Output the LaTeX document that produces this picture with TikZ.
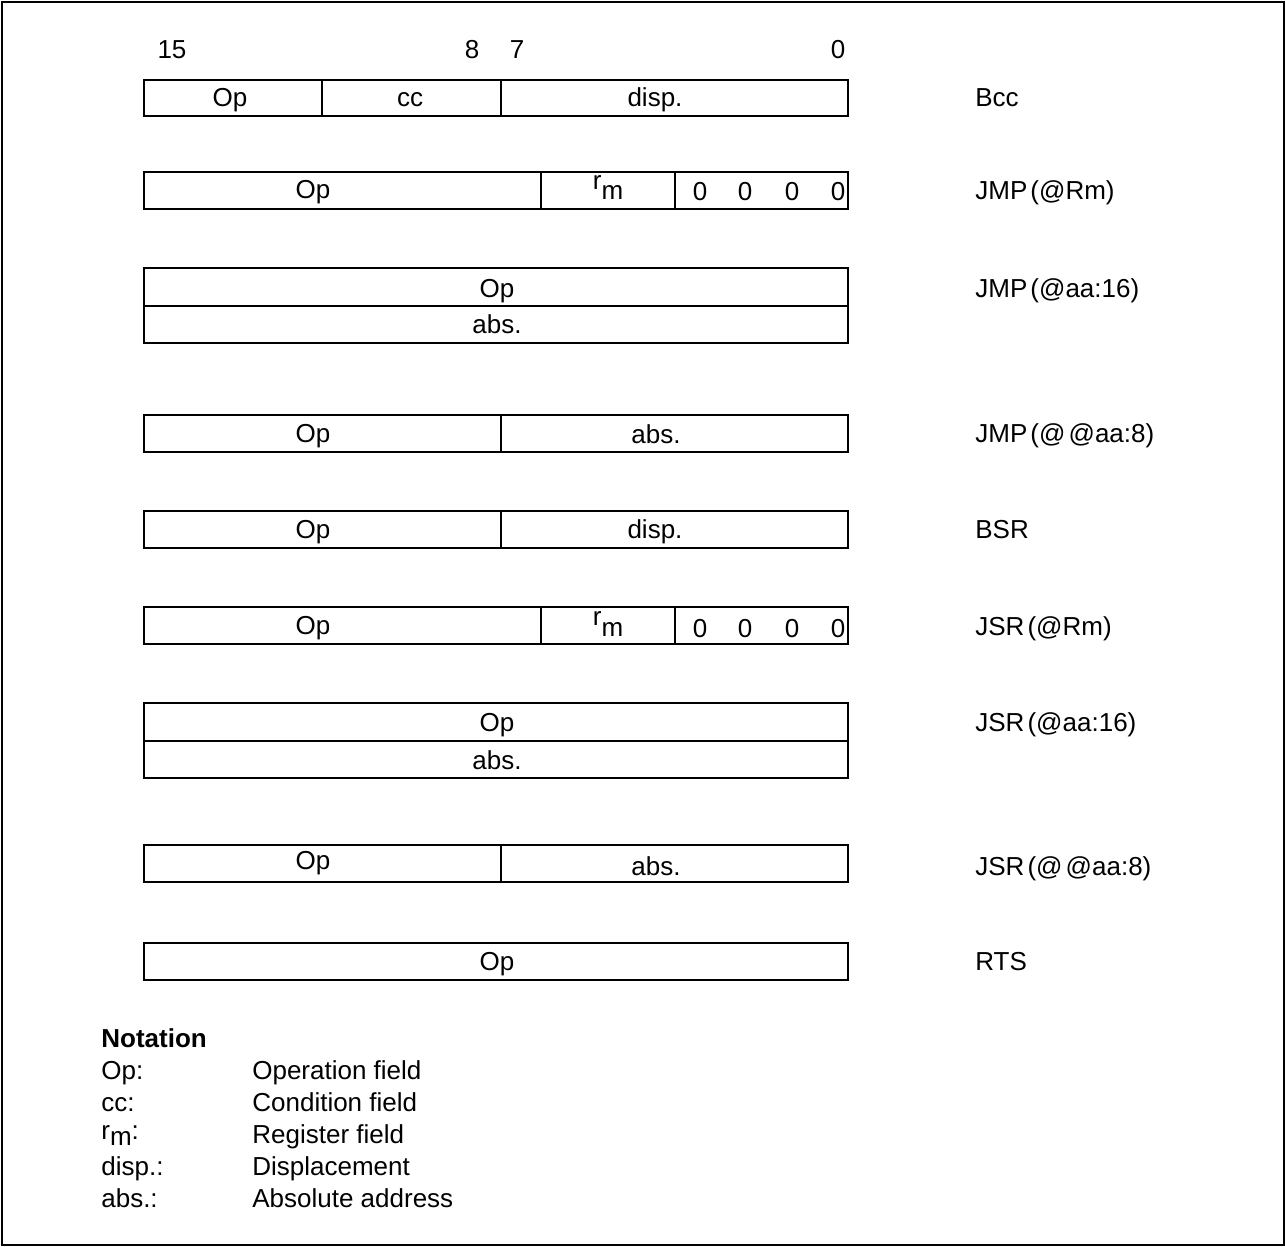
\documentclass[tikz,border=0pt]{standalone}
\usepackage{fontspec}
\setmainfont{Liberation Sans}
\usepackage{tikz}

\newcommand{\regm}{\raisebox{0.75ex}{r}m}

\begin{document}
\begin{tikzpicture}[
    x=0.02cm, y=-0.02cm,
    field/.style={draw=black, line width=1.1pt},
    txt/.style={inner sep=0pt, anchor=base, font=\fontsize{14.8}{17}\selectfont},
    mnem/.style={txt, anchor=base west},
    section/.style={txt, anchor=base west, font=\fontsize{14.8}{17}\selectfont\bfseries}
]
    \useasboundingbox (0,0) rectangle (1286,1247);
    \draw[line width=1.1pt] (2,2) rectangle (1284,1245);

    % Bit numbers
    \node[txt] (b15) at (172,59) {15};
    \node[txt] (b8) at (472,59) {8};
    \node[txt] (b7) at (517,59) {7};
    \node[txt] (b0) at (838,59) {0};

    % Bcc
    \draw[field] (144,80) rectangle (322,116);
    \draw[field] (322,80) rectangle (501,116);
    \draw[field] (501,80) rectangle (848,116);
    \node[txt] (bcc-op) at (230,107) {Op};
    \node[txt] (bcc-cc) at (410,107) {cc};
    \node[txt] (bcc-disp) at (655,107) {disp.};
    \node[mnem] (bcc) at (975,107) {Bcc};

    % JMP (@Rm)
    \draw[field] (144,172) rectangle (541,209);
    \draw[field] (541,172) rectangle (675,209);
    \draw[field] (675,172) rectangle (848,209);
    \node[txt] (jmpr-op) at (313,198) {Op};
    \node[txt] (jmpr-rm) at (608,200) {\regm};
    \node[txt] (jmpr-z3) at (700,201) {0};
    \node[txt] (jmpr-z2) at (745,201) {0};
    \node[txt] (jmpr-z1) at (792,201) {0};
    \node[txt] (jmpr-z0) at (838,201) {0};
    \node[mnem] (jmpr) at (975,199) {JMP\hspace{0.12em}(@Rm)};

    % JMP (@aa:16)
    \draw[field] (144,268) rectangle (848,306);
    \draw[field] (144,306) rectangle (848,343);
    \node[txt] (jmpa-op) at (497,297) {Op};
    \node[txt] (jmpa-abs) at (497,334) {abs.};
    \node[mnem] (jmpa) at (975,297) {JMP\hspace{0.12em}(@aa:16)};

    % JMP (@@aa:8)
    \draw[field] (144,415) rectangle (501,452);
    \draw[field] (501,415) rectangle (848,452);
    \node[txt] (jmpm-op) at (313,442) {Op};
    \node[txt] (jmpm-abs) at (656,443) {abs.};
    \node[mnem] (jmpm) at (975,442) {JMP\hspace{0.12em}(@\hspace{0.12em}@aa:8)};

    % BSR
    \draw[field] (144,511) rectangle (501,548);
    \draw[field] (501,511) rectangle (848,548);
    \node[txt] (bsr-op) at (313,538) {Op};
    \node[txt] (bsr-disp) at (655,538) {disp.};
    \node[mnem] (bsr) at (975,538) {BSR};

    % JSR (@Rm)
    \draw[field] (144,607) rectangle (541,644);
    \draw[field] (541,607) rectangle (675,644);
    \draw[field] (675,607) rectangle (848,644);
    \node[txt] (jsrr-op) at (313,634) {Op};
    \node[txt] (jsrr-rm) at (608,636) {\regm};
    \node[txt] (jsrr-z3) at (700,637) {0};
    \node[txt] (jsrr-z2) at (745,637) {0};
    \node[txt] (jsrr-z1) at (792,637) {0};
    \node[txt] (jsrr-z0) at (838,637) {0};
    \node[mnem] (jsrr) at (975,635) {JSR\hspace{0.12em}(@Rm)};

    % JSR (@aa:16)
    \draw[field] (144,703) rectangle (848,741);
    \draw[field] (144,741) rectangle (848,778);
    \node[txt] (jsra-op) at (497,731) {Op};
    \node[txt] (jsra-abs) at (497,769) {abs.};
    \node[mnem] (jsra) at (975,731) {JSR\hspace{0.12em}(@aa:16)};

    % JSR (@@aa:8)
    \draw[field] (144,845) rectangle (501,882);
    \draw[field] (501,845) rectangle (848,882);
    \node[txt] (jsrm-op) at (313,869) {Op};
    \node[txt] (jsrm-abs) at (656,875) {abs.};
    \node[mnem] (jsrm) at (975,875) {JSR\hspace{0.12em}(@\hspace{0.12em}@aa:8)};

    % RTS
    \draw[field] (144,943) rectangle (848,980);
    \node[txt] (rts-op) at (497,970) {Op};
    \node[mnem] (rts) at (975,970) {RTS};

    % Notation
    \node[section] (notation) at (101,1047) {Notation};
    \node[mnem] (n-op) at (101,1079) {Op:};
    \node[mnem] (n-cc) at (101,1111) {cc:};
    \node[mnem] (n-rm) at (101,1139) {r\raisebox{-0.45ex}{m}:};
    \node[mnem] (n-disp) at (101,1175) {disp.:};
    \node[mnem] (n-abs) at (101,1207) {abs.:};
    \node[mnem] (d-op) at (252,1079) {Operation field};
    \node[mnem] (d-cc) at (252,1111) {Condition field};
    \node[mnem] (d-rm) at (252,1143) {Register field};
    \node[mnem] (d-disp) at (252,1175) {Displacement};
    \node[mnem] (d-abs) at (252,1207) {Absolute address};
\end{tikzpicture}
\end{document}
